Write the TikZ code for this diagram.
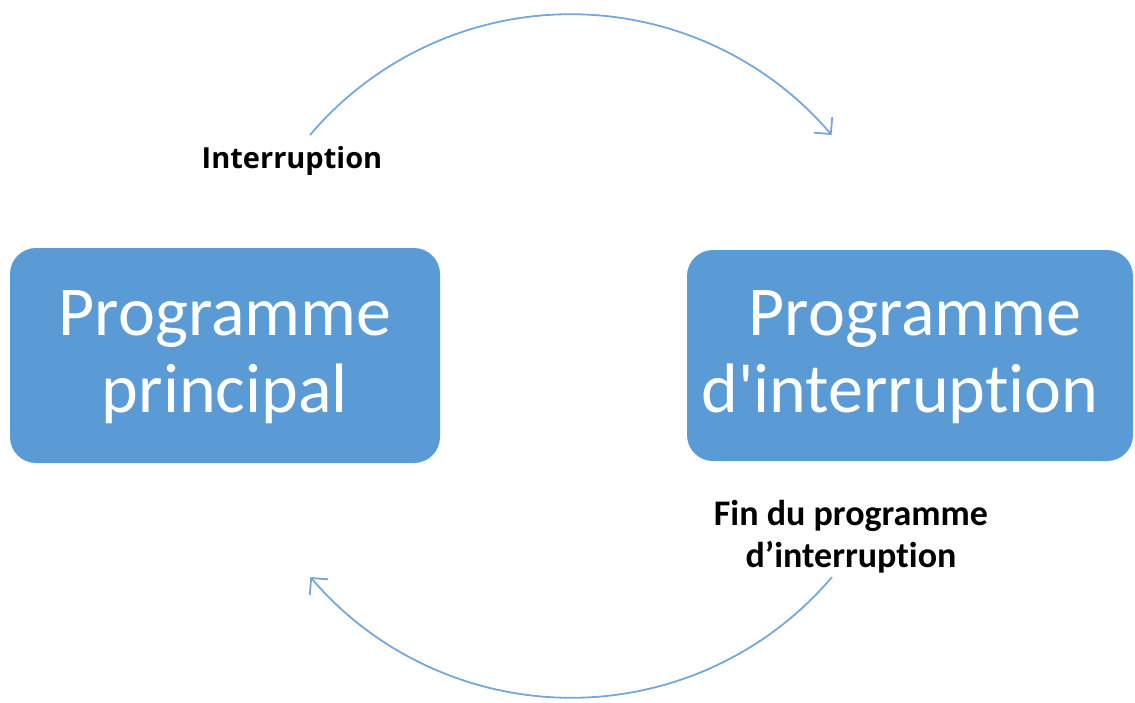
\documentclass[tikz,border=0pt]{standalone}
\usepackage{fontspec}
\setmainfont{Carlito}[Ligatures={NoCommon}]
\newfontfamily\labelfont{Open Sans}
\usetikzlibrary{arrows.meta}
\definecolor{boxblue}{HTML}{5B9BD5}
\definecolor{arcblue}{HTML}{74A8DA}
\tikzset{
  progbox/.style={fill=boxblue, rounded corners=26pt, inner sep=0pt},
  progtext/.style={text=white, font=\fontsize{70}{77}\selectfont, anchor=base, inner sep=0pt},
  arcline/.style={draw=arcblue, line width=1.8pt,
    -{Straight Barb[length=12pt,width=24pt,line width=1.8pt]}},
  lbl/.style={text=black, align=center, inner sep=0pt, anchor=base}
}
\begin{document}
\begin{tikzpicture}[x=1pt,y=1pt]
\useasboundingbox (0,0) rectangle (1135,-702);
% boxes
\node[progbox, minimum width=430pt, minimum height=215pt] (L) at (225,-355.5) {};
\node[progbox, minimum width=446pt, minimum height=211pt] (R) at (910,-355.5) {};
\node[progtext] (Lt1) at (225,-335) {Programme};
\node[progtext] (Lt2) at (225,-412) {principal};
\node[progtext] (Rt1) at (915,-335) {Programme};
\node[progtext] (Rt2) at (900,-412) {d\textquotesingle interruption};
% labels
\node[lbl, font=\labelfont\bfseries\fontsize{29}{34}\selectfont] (i) at (292,-168) {Interruption};
\node[lbl, font=\bfseries\fontsize{36}{42}\selectfont] (f1) at (851,-525) {Fin du programme};
\node[lbl, font=\bfseries\fontsize{36}{42}\selectfont] (f2) at (851,-567) {d’interruption};
% arcs
\coordinate (s1) at (310,-135);
\coordinate (s2) at (832,-577);
\draw[arcline] (s1) arc[start angle=139.7, end angle=40.3, radius=342pt];
\draw[arcline] (s2) arc[start angle=-40.3, end angle=-139.7, radius=342pt];
\end{tikzpicture}
\end{document}
